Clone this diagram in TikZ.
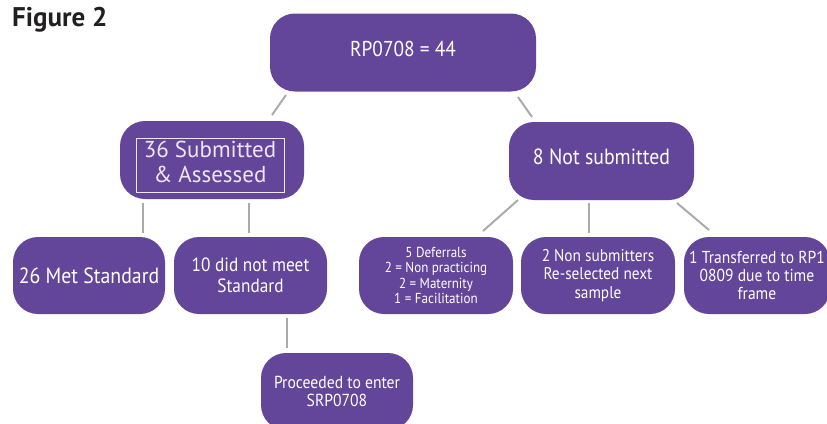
\documentclass[tikz,border=0pt]{standalone}
\usepackage{fontspec}
\setmainfont{PT Sans}[FakeStretch=0.9]
\newfontfamily\plainfont{PT Sans}
\definecolor{purp}{HTML}{63459A}
\definecolor{connc}{HTML}{ABABAB}
\definecolor{figtxt}{HTML}{231F20}
\definecolor{lav}{HTML}{EDE6F5}
\tikzset{
  box/.style={fill=purp, rounded corners=25pt, text=white, align=center,
    inner sep=0pt, minimum height=77pt},
  conn/.style={draw=connc, line width=2pt},
}
\begin{document}
\begin{tikzpicture}[x=1pt,y=-1pt]
\useasboundingbox (0,0) rectangle (827,423);
\clip (0,0) rectangle (827,423);
\node[anchor=base west, text=figtxt, font=\plainfont\bfseries\fontsize{27}{30}\selectfont, inner sep=0pt] (fig) at (12,26) {Figure 2};

\node[box, minimum width=266pt, minimum height=78pt, font=\fontsize{21.5}{26}\selectfont, text depth=8pt] (top) at (403,52.5) {RP0708 = 44};
\node[box, minimum width=184pt, minimum height=78pt] (s36) at (212,160) {};
\node[draw=lav, line width=0.8pt, minimum width=148pt, minimum height=54pt, inner sep=0pt] (s36in) at (210,165) {};
\node[text=lav, align=center, inner sep=0pt, font=\plainfont\fontsize{23}{25}\selectfont] (s36t) at (210,162) {36 Submitted\\\& Assessed};
\node[box, minimum width=185pt, minimum height=78pt, font=\fontsize{22}{26}\selectfont, text depth=8pt] (ns8) at (601.5,161) {8 Not submitted};

\node[box, minimum width=152pt, font=\fontsize{22}{26}\selectfont] (m26) at (89,275.5) {26 Met Standard};
\node[box, minimum width=153pt, font=\fontsize{19.2}{21}\selectfont] (d10) at (250.5,275.5) {10 did not meet\\Standard};
\node[box, minimum width=154pt, font=\fontsize{14.5}{15.5}\selectfont] (def5) at (436,275.5) {5 Deferrals\\2 = Non practicing\\2 = Maternity\\1 = Facilitation};
\node[box, minimum width=154pt, font=\fontsize{17}{18.3}\selectfont] (ns2) at (598,275.5) {2 Non submitters\\Re-selected next\\sample};
\node[box, minimum width=146pt, font=\fontsize{17.3}{18}\selectfont] (t1) at (757,275.5) {1 Transferred to RP1\\0809 due to time\\frame};
\node[box, minimum width=152pt, font=\fontsize{17.4}{18}\selectfont] (proc) at (337,391.5) {Proceeded to enter\\SRP0708};

\coordinate (c1a) at (286,95);  \coordinate (c1b) at (272,115);
\coordinate (c2a) at (518,97);  \coordinate (c2b) at (532,117);
\coordinate (c3a) at (143,203); \coordinate (c3b) at (143,233);
\coordinate (c4a) at (249,203); \coordinate (c4b) at (249,233);
\coordinate (c5a) at (518,200); \coordinate (c5b) at (483,231);
\coordinate (c6a) at (589,203); \coordinate (c6b) at (589,233);
\coordinate (c7a) at (677,203); \coordinate (c7b) at (709,230);
\coordinate (c8a) at (287,318); \coordinate (c8b) at (287,348);
\foreach \i in {1,...,8} { \draw[conn] (c\i a) -- (c\i b); }
\end{tikzpicture}
\end{document}
